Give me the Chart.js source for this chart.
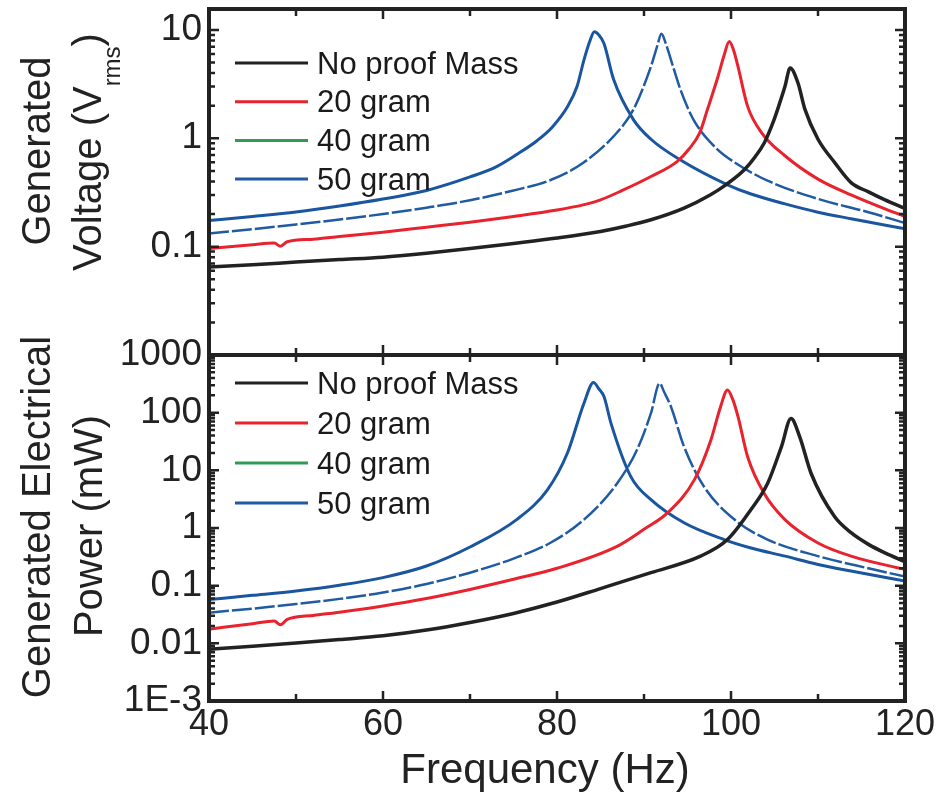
<!DOCTYPE html>
<html>
<head>
<meta charset="utf-8">
<script src="https://cdn.jsdelivr.net/npm/chart.js@4.4.1/dist/chart.umd.min.js"></script>
<style>
  html, body { margin: 0; padding: 0; background: #fff; }
  #wrap { position: relative; width: 942px; height: 798px; }
  canvas { position: absolute; left: 0; }
  #top { top: 0; }
  #bottom { top: 330px; }
</style>
</head>
<body>
<div id="wrap">
  <canvas id="top" width="942" height="370"></canvas>
  <canvas id="bottom" width="942" height="468"></canvas>
</div>
<script>
const seriesNames = ['No proof Mass', '20 gram', '40 gram', '50 gram'];

// generated voltage (V rms) vs frequency (Hz)
const freqV0 = [40, 45, 50, 55, 60, 65, 70, 75, 80, 85, 88, 90.8, 94.6, 97.6, 99.4, 101.5, 102.8, 103.8, 104.9, 105.5, 106.2, 106.8, 107.7, 108.5, 110, 111.9, 113.8, 115.8, 117.7, 120];
const volt0  = [0.065, 0.068, 0.072, 0.076, 0.080, 0.087, 0.096, 0.107, 0.120, 0.138, 0.155, 0.177, 0.227, 0.30, 0.372, 0.51, 0.68, 0.90, 1.45, 2.0, 3.0, 4.45, 3.24, 1.85, 0.98, 0.6, 0.39, 0.32, 0.27, 0.225];

const freqV20 = [40, 45, 47.5, 48.2, 49, 52, 55, 60, 65, 70, 75, 80, 83, 85, 87.5, 90.8, 93.8, 95.2, 96.4, 97.3, 98.5, 99.2, 99.8, 100.3, 100.8, 101.9, 103.5, 106.2, 110, 113.8, 117.7, 120];
const volt20  = [0.096, 0.104, 0.108, 0.101, 0.111, 0.117, 0.124, 0.136, 0.151, 0.168, 0.19, 0.218, 0.243, 0.27, 0.33, 0.444, 0.61, 0.8, 1.12, 1.85, 3.7, 5.8, 7.8, 6.5, 4.6, 1.98, 1.13, 0.69, 0.42, 0.30, 0.223, 0.19];

const freqV40 = [40, 45, 50, 55, 60, 65, 70, 75, 79.2, 83.1, 86.9, 88.8, 90.8, 91.5, 92.0, 92.5, 93.1, 94.2, 95.7, 98.5, 100.4, 104.2, 110, 115.8, 120];
const volt40  = [0.132, 0.145, 0.16, 0.178, 0.20, 0.229, 0.268, 0.33, 0.41, 0.6, 1.13, 1.85, 4.6, 7.0, 9.2, 7.5, 5.3, 2.8, 1.48, 0.78, 0.6, 0.406, 0.276, 0.208, 0.165];

const freqV50 = [40, 45, 50, 55, 60, 65, 70, 73, 75.5, 77.7, 79.5, 81.2, 82.3, 83.1, 83.8, 84.3, 84.8, 85.4, 86.5, 88.8, 90.8, 94.2, 99.6, 102.3, 106.2, 110, 113.8, 120];
const volt50  = [0.174, 0.19, 0.209, 0.237, 0.275, 0.33, 0.44, 0.545, 0.72, 0.95, 1.28, 1.95, 3.0, 5.3, 8.0, 9.6, 9.0, 7.5, 3.5, 1.48, 0.98, 0.63, 0.372, 0.306, 0.248, 0.208, 0.181, 0.146];

// generated electrical power (mW) vs frequency (Hz)
const freqP0 = [40, 45, 50, 55, 60, 65, 70, 75, 80, 85, 90.8, 96.5, 99.6, 102.3, 104.2, 105.8, 106.9, 107.9, 109.2, 111.9, 113.8, 115.8, 117.7, 120];
const pow0   = [0.0079, 0.0089, 0.0101, 0.0116, 0.0135, 0.017, 0.023, 0.033, 0.052, 0.089, 0.168, 0.325, 0.63, 2.09, 5.9, 25.8, 79, 38, 8.9, 1.58, 0.83, 0.52, 0.37, 0.26];

const freqP20 = [40, 45, 47.5, 48.2, 49, 52, 55, 60, 65, 70, 75, 80, 86.9, 90, 92.7, 95.8, 97.7, 98.8, 99.6, 100.2, 100.8, 101.9, 103.8, 106.2, 110, 113.8, 120];
const pow20   = [0.0176, 0.0219, 0.0245, 0.021, 0.026, 0.0305, 0.0347, 0.0445, 0.060, 0.086, 0.129, 0.20, 0.48, 0.95, 1.83, 6.9, 34, 127, 248, 170, 86, 17.4, 4.0, 1.4, 0.55, 0.325, 0.19];

const freqP40 = [40, 45, 50, 55, 60, 65, 70, 75, 79.2, 83.1, 86.9, 89.2, 90.8, 91.8, 92.3, 93.1, 94.6, 96.9, 100.4, 104.2, 110, 115.8, 120];
const pow40   = [0.034, 0.040, 0.048, 0.059, 0.076, 0.107, 0.168, 0.295, 0.55, 1.4, 5.9, 22.8, 98, 325, 230, 127, 25.8, 5.2, 1.4, 0.63, 0.325, 0.2, 0.144];

const freqP50 = [40, 45, 50, 55, 60, 65, 70, 75.4, 78.9, 81.2, 83.1, 84.2, 84.8, 85.4, 86.2, 88.5, 90.8, 94.6, 99.2, 102.3, 106.2, 110, 113.8, 120];
const pow50   = [0.0575, 0.068, 0.081, 0.102, 0.138, 0.219, 0.468, 1.41, 4.6, 20, 146, 333, 260, 190, 66, 7.7, 3.1, 1.23, 0.63, 0.45, 0.325, 0.233, 0.179, 0.12];

const xTicks = [40, 60, 80, 100, 120];
const voltTicks = [0.01, 0.1, 1, 10];
const powTicks = [0.001, 0.01, 0.1, 1, 10, 100, 1000];

const lineColors = ['#222222', '#e8232d', '#1f5aa3', '#1a55a0'];
const legendColors = ['#222222', '#e8232d', '#2e9b57', '#1f5aa3'];
const FONT = 'Liberation Sans, Arial, sans-serif';

const pts = (xs, ys) => xs.map((x, i) => ({ x: x, y: ys[i] }));

function makeDatasets(groups) {
  return groups.map((g, i) => ({
    label: seriesNames[i],
    data: pts(g[0], g[1]),
    borderColor: lineColors[i],
    borderWidth: i === 0 ? 3.5 : (i === 2 ? 2.5 : 3),
    borderDash: i === 2 ? [20, 3] : [],
    pointRadius: 0,
    cubicInterpolationMode: 'monotone',
    fill: false
  }));
}

function drawRotated(ctx, xBase, yMid, parts) {
  ctx.save();
  ctx.translate(xBase, yMid);
  ctx.rotate(-Math.PI / 2);
  ctx.textAlign = 'left';
  ctx.textBaseline = 'alphabetic';
  let total = 0;
  parts.forEach(p => {
    ctx.font = p.sub ? '24px ' + FONT : '40px ' + FONT;
    total += ctx.measureText(p.t).width;
  });
  let cx = -total / 2;
  parts.forEach(p => {
    ctx.font = p.sub ? '24px ' + FONT : '40px ' + FONT;
    ctx.fillText(p.t, cx, p.sub ? 19 : 0);
    cx += ctx.measureText(p.t).width;
  });
  ctx.restore();
}

const decor = {
  id: 'decor',
  afterDatasetsDraw(chart, args, opts) {
    const { ctx, chartArea: a } = chart;
    const x = chart.scales.x, y = chart.scales.y;
    ctx.save();
    ctx.strokeStyle = '#222';
    ctx.lineWidth = 2.5;
    ctx.beginPath();
    for (let f = 40; f <= 120; f += 10) {
      const px = x.getPixelForValue(f);
      const len = f % 20 === 0 ? 10 : 7;
      ctx.moveTo(px, a.bottom); ctx.lineTo(px, a.bottom - len);
      ctx.moveTo(px, a.top); ctx.lineTo(px, a.top + len);
    }
    for (let e = -4; e <= 3; e++) {
      for (let m = 1; m <= 9; m++) {
        const v = m * Math.pow(10, e);
        if (v < y.min * 0.999 || v > y.max) continue;
        const py = y.getPixelForValue(v);
        const len = m === 1 ? 10 : 6;
        ctx.moveTo(a.left, py); ctx.lineTo(a.left + len, py);
        ctx.moveTo(a.right, py); ctx.lineTo(a.right - len, py);
      }
    }
    ctx.stroke();
    ctx.lineWidth = 4;
    ctx.strokeRect(a.left, a.top, a.right - a.left, a.bottom - a.top);

    // legend inside the panel
    ctx.font = '31px ' + FONT;
    ctx.textAlign = 'left';
    ctx.textBaseline = 'middle';
    seriesNames.forEach((name, i) => {
      const ly = a.top + opts.legendTop + i * opts.legendGap;
      ctx.strokeStyle = legendColors[i];
      ctx.lineWidth = 3;
      ctx.beginPath();
      ctx.moveTo(235, ly); ctx.lineTo(308, ly);
      ctx.stroke();
      ctx.fillStyle = '#1a1a1a';
      ctx.fillText(name, 317, ly + 2);
    });

    // axis titles
    ctx.fillStyle = '#222';
    opts.titles.forEach(t => drawRotated(ctx, t.x, t.y, t.parts));
    if (opts.xTitle) {
      ctx.font = '42px ' + FONT;
      ctx.textAlign = 'center';
      ctx.textBaseline = 'alphabetic';
      ctx.fillText(opts.xTitle.text, opts.xTitle.x, opts.xTitle.y);
    }
    ctx.restore();
  }
};

function fmtTick(v) {
  if (Math.abs(v - 0.001) < 1e-9) return '1E-3';
  return String(+v.toPrecision(3));
}

function baseOptions(yMin, yMax, yTicks, hiddenTicks, padding, showX) {
  return {
    responsive: false,
    animation: false,
    devicePixelRatio: 1,
    layout: { padding: padding },
    plugins: { legend: { display: false }, tooltip: { enabled: false } },
    scales: {
      x: {
        type: 'linear', min: 40, max: 120, display: showX,
        grid: { display: false, drawTicks: false },
        border: { display: false },
        afterBuildTicks: s => { s.ticks = xTicks.map(v => ({ value: v })); },
        afterFit: s => { if (showX) s.height = 97; },
        ticks: { font: { family: FONT, size: 36 }, color: '#222', padding: 2, maxRotation: 0 }
      },
      y: {
        type: 'logarithmic', min: yMin, max: yMax,
        grid: { display: false, drawTicks: false },
        border: { display: false },
        afterBuildTicks: s => { s.ticks = yTicks.map(v => ({ value: v })); },
        afterFit: s => { s.width = 209; s.paddingTop = 0; s.paddingBottom = 0; },
        ticks: {
          font: { family: FONT, size: 37 }, color: '#222', padding: 7, autoSkip: false,
          callback: v => hiddenTicks.includes(v) ? '' : fmtTick(v)
        }
      }
    }
  };
}

const topOpts = baseOptions(0.01, 15.6, voltTicks, [0.01], { top: 9, right: 37, bottom: 15, left: 0 }, false);
topOpts.plugins.decor = {
  legendTop: 54, legendGap: 38.7,
  titles: [
    { x: 50, y: 151, parts: [{ t: 'Generated' }] },
    { x: 101, y: 152, parts: [{ t: 'Voltage (V' }, { t: 'rms', sub: true }, { t: ')' }] }
  ]
};

new Chart(document.getElementById('top'), {
  type: 'line',
  data: { datasets: makeDatasets([[freqV0, volt0], [freqV20, volt20], [freqV40, volt40], [freqV50, volt50]]) },
  options: topOpts,
  plugins: [decor]
});

const botOpts = baseOptions(0.001, 1000, powTicks, [], { top: 25, right: 37, bottom: 0, left: 0 }, true);
botOpts.plugins.decor = {
  legendTop: 28, legendGap: 40,
  titles: [
    { x: 50, y: 517 - 330, parts: [{ t: 'Generated Electrical' }] },
    { x: 102, y: 526 - 330, parts: [{ t: 'Power (mW)' }] }
  ],
  xTitle: { text: 'Frequency (Hz)', x: 545, y: 783 - 330 }
};

new Chart(document.getElementById('bottom'), {
  type: 'line',
  data: { datasets: makeDatasets([[freqP0, pow0], [freqP20, pow20], [freqP40, pow40], [freqP50, pow50]]) },
  options: botOpts,
  plugins: [decor]
});
</script>
</body>
</html>
